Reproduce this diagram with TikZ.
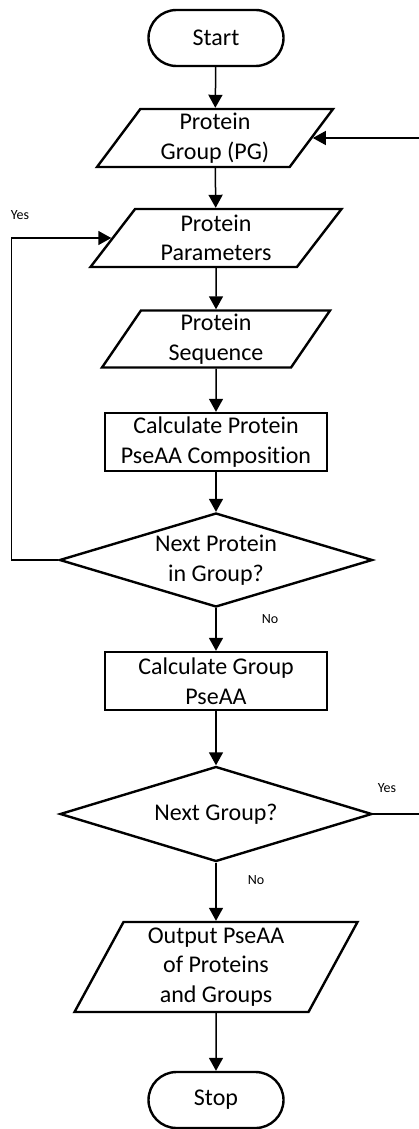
\documentclass[tikz,border=0pt]{standalone}
\usepackage{fontspec}
\setmainfont{Carlito}[Ligatures=NoCommon]
\usetikzlibrary{arrows.meta,shapes.geometric,shapes.misc}

\begin{document}
\begin{tikzpicture}[x=1pt, y=-1pt,
    every node/.style={font=\fontsize{24}{29.5}\selectfont, align=center, line width=2.4pt},
    term/.style={draw, rounded rectangle, minimum width=135pt, minimum height=56pt, inner sep=0pt},
    iobox/.style={draw, trapezium, trapezium stretches body, inner sep=0pt},
    procbox/.style={draw, rectangle, minimum width=222pt, minimum height=58pt, inner sep=0pt},
    decision/.style={draw, diamond, aspect=3.3, inner sep=0pt},
    arr/.style={-{Triangle[width=14pt,length=13pt]}, line width=1.5pt},
    lbl/.style={font=\fontsize{14}{16}\selectfont}]
            \clip (0,0) rectangle (419,1129);

            % Terminals
            \node[term] (start) at (216,38) {Start};
            \node[term] (stop) at (216,1100) {Stop};

            % Inputs
            \node[iobox, trapezium left angle=49, trapezium right angle=131,
                  minimum width=236pt, minimum height=58pt] (pg) at (215,138) {Protein\\Group (PG)};
            \node[iobox, trapezium left angle=46, trapezium right angle=134,
                  minimum width=251pt, minimum height=58pt] (param) at (216,238) {Protein\\Parameters};
            \node[iobox, trapezium left angle=52, trapezium right angle=128,
                  minimum width=228pt, minimum height=57pt] (seq) at (216,339) {Protein\\Sequence};

            % Protein loop
            \node[procbox] (calcp) at (216,442) {Calculate Protein\\PseAA Composition};
            \node[decision, minimum width=313pt, minimum height=94pt] (nextp) at (216,560) {Next Protein\\in Group?};

            % Group loop
            \node[procbox] (calcg) at (216,681) {Calculate Group\\PseAA};
            \node[decision, minimum width=312pt, minimum height=95pt] (nextg) at (216,814) {Next Group?};

            % Output
            \node[iobox, trapezium left angle=58, trapezium right angle=122,
                  minimum width=283pt, minimum height=90pt] (out) at (216,967) {Output PseAA\\of Proteins\\and Groups};

            % Labels
            \node[lbl] (yes1) at (20,215) {Yes};
            \node[lbl] (no1) at (270,619) {No};
            \node[lbl] (yes2) at (387,788) {Yes};
            \node[lbl] (no2) at (256,880) {No};

            % Flow
            \draw[arr] (start) -- (pg);
            \draw[arr] (pg) -- (param);
            \draw[arr] (param) -- (seq);
            \draw[arr] (seq) -- (calcp);
            \draw[arr] (calcp) -- (nextp);
            \draw[arr] (nextp) -- (calcg);
            \draw[arr] (calcg) -- (nextg);
            \draw[arr] (nextg) -- (out);
            \draw[arr] (out) -- (stop);
            \draw[arr] (nextp.west) -- ++(-47,0) |- (param.west);
            \draw[arr] (nextg.east) -- ++(70,0) |- (pg.east);
\end{tikzpicture}
\end{document}
